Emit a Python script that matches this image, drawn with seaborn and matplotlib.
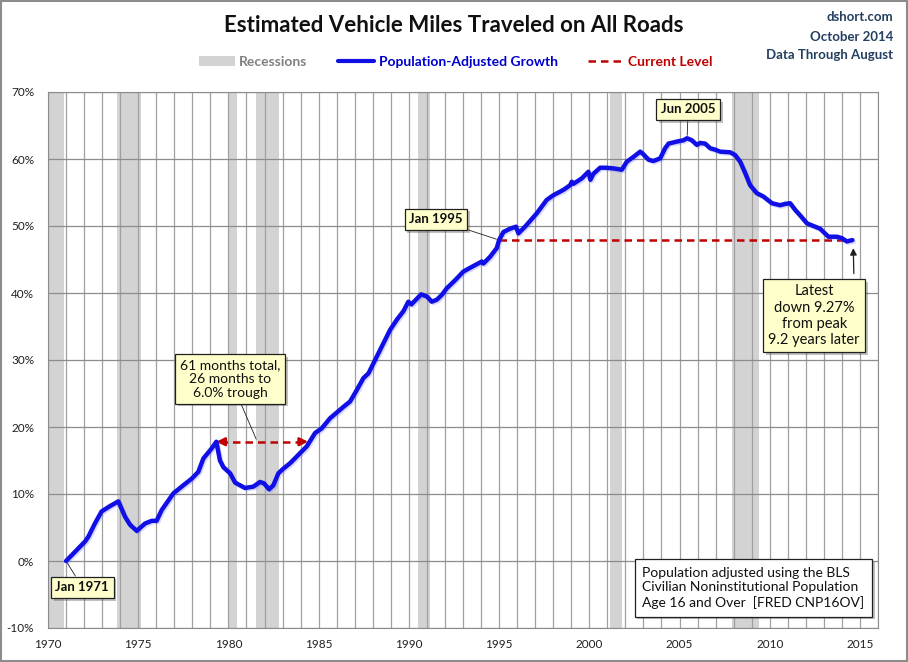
import matplotlib
matplotlib.use("Agg")
import matplotlib.pyplot as plt
import matplotlib.patheffects as pe
from matplotlib.patches import Patch, Rectangle
from matplotlib.lines import Line2D
from matplotlib.ticker import MultipleLocator, FuncFormatter
import seaborn as sns
import pandas as pd

# ---- data ----
dates = [1971.0, 1972.05, 1972.23, 1972.6, 1972.97, 1973.44, 1973.9, 1974.27, 1974.55, 1974.92,
         1975.38, 1975.75, 1976.02, 1976.3, 1976.95, 1977.5, 1977.97, 1978.33, 1978.61, 1979.07,
         1979.33, 1979.53, 1979.72, 1980.09, 1980.37, 1980.92, 1981.38, 1981.75, 1981.97, 1982.25,
         1982.49, 1982.77, 1983.05, 1983.42, 1983.97, 1984.34, 1984.8, 1985.17, 1985.63, 1986.37,
         1986.74, 1987.11, 1987.48, 1987.76, 1988.22, 1988.59, 1988.96, 1989.33, 1989.7, 1989.97,
         1990.14, 1990.68, 1990.99, 1991.27, 1991.55, 1991.82, 1992.1, 1992.56, 1993.02, 1993.49,
         1994.04, 1994.13, 1994.5, 1994.87, 1995.0, 1995.24, 1995.61, 1995.94, 1996.07, 1996.44,
         1997.09, 1997.64, 1998.01, 1998.57, 1998.94, 1999.03, 1999.12, 1999.58, 1999.95, 2000.06,
         2000.23, 2000.6, 2000.92, 2001.34, 2001.8, 2002.08, 2002.44, 2002.82, 2002.96, 2003.28,
         2003.55, 2003.93, 2004.2, 2004.39, 2004.85, 2005.22, 2005.42, 2005.68, 2005.96, 2006.14,
         2006.42, 2006.7, 2006.97, 2007.25, 2007.81, 2008.08, 2008.36, 2008.64, 2008.91, 2009.28,
         2009.65, 2010.12, 2010.58, 2010.85, 2011.13, 2011.41, 2011.68, 2012.06, 2012.33, 2012.79,
         2013.25, 2013.72, 2013.99, 2014.27, 2014.58]
growth = [0.0, 2.9, 3.6, 5.6, 7.4, 8.2, 8.9, 6.6, 5.4, 4.5,
          5.6, 6.0, 6.0, 7.6, 10.1, 11.3, 12.3, 13.3, 15.3, 16.8,
          17.8, 15.0, 14.0, 13.1, 11.7, 10.9, 11.1, 11.8, 11.6, 10.7,
          11.3, 13.1, 13.8, 14.6, 16.1, 17.1, 19.1, 19.8, 21.3, 23.0,
          23.8, 25.5, 27.3, 28.0, 30.5, 32.5, 34.5, 36.0, 37.3, 38.7,
          38.3, 39.8, 39.5, 38.7, 39.0, 39.7, 40.7, 41.9, 43.2, 43.9,
          44.7, 44.4, 45.4, 46.7, 47.9, 49.1, 49.6, 49.9, 48.9, 49.9,
          51.9, 53.9, 54.6, 55.4, 56.1, 56.6, 56.3, 57.1, 58.1, 56.9,
          57.8, 58.7, 58.7, 58.6, 58.4, 59.6, 60.3, 61.1, 60.8, 59.9,
          59.7, 60.1, 61.6, 62.3, 62.6, 62.8, 63.1, 62.8, 62.1, 62.4,
          62.3, 61.6, 61.4, 61.1, 61.0, 60.6, 59.6, 57.9, 56.1, 54.9,
          54.4, 53.4, 53.1, 53.3, 53.4, 52.4, 51.6, 50.4, 50.1, 49.6,
          48.4, 48.4, 48.2, 47.7, 47.9]
recession_start = [1969.83, 1973.83, 1980.0, 1981.5, 1990.5, 2001.17, 2007.92]
recession_end = [1970.9, 1975.17, 1980.5, 1982.83, 1991.17, 2001.83, 2009.42]
level_start = 1995.0
x_ticks = [1970, 1975, 1980, 1985, 1990, 1995, 2000, 2005, 2010, 2015]
y_ticks = [-10, 0, 10, 20, 30, 40, 50, 60, 70]

df = pd.DataFrame({"date": dates, "growth": growth})

sns.set_style("white")
plt.rcParams['font.family'] = ['Lato', 'DejaVu Sans']

fig = plt.figure(figsize=(9.08, 6.62), dpi=100)
ax = fig.add_axes([48/908, 1-628/662, 830/908, 536/662])

BLUE = '#1010E6'
RED = '#C00000'
GRAY = '#D3D3D3'

for s, e in zip(recession_start, recession_end):
    ax.axvspan(max(s, 1970), e, color=GRAY, lw=0, zorder=0.5)

sns.lineplot(data=df, x="date", y="growth", ax=ax, color=BLUE, lw=3.2, zorder=4,
             path_effects=[pe.SimpleLineShadow(offset=(1, -1), alpha=0.25, shadow_color='#6060ff'), pe.Normal()])

# current level
current = growth[-1]
ax.hlines(current, level_start, dates[-1], colors=RED, linestyles=(0, (3, 2)), lw=1.8, zorder=3)

# 61-month span arrow
pk = dates.index(1979.33)
span_end = dates[pk] + 61 / 12
ax.plot([dates[pk] + 0.2, span_end - 0.2], [growth[pk], growth[pk]], color=RED, ls=(0, (3, 2)), lw=1.8, zorder=3)
for a, b in [(dates[pk] + 0.5, dates[pk]), (span_end - 0.5, span_end)]:
    ax.annotate('', xy=(b, growth[pk]), xytext=(a, growth[pk]),
                arrowprops=dict(arrowstyle='-|>', color=RED, lw=1.8, mutation_scale=12, shrinkA=0, shrinkB=0), zorder=3)

ax.set_xlim(1970, 2016)
ax.set_ylim(-10, 70)
ax.set_xticks(x_ticks)
ax.set_yticks(y_ticks)
ax.xaxis.set_minor_locator(MultipleLocator(1))
ax.yaxis.set_major_formatter(FuncFormatter(lambda v, p: f"{v:.0f}%"))
ax.grid(which='major', axis='y', color='#8C8C8C', lw=0.9)
ax.grid(which='both', axis='x', color='#A0A0A0', lw=0.9)
ax.set_axisbelow(True)
ax.tick_params(axis='both', which='both', length=0, labelsize=8.5, colors='#202020')
ax.tick_params(axis='x', pad=8)
ax.tick_params(axis='y', pad=10)
ax.set_xlabel('')
ax.set_ylabel('')
for sp in ax.spines.values():
    sp.set_color('#8C8C8C')

box = dict(boxstyle='square,pad=0.35', fc='#FFFFCC', ec='#202020', lw=0.9)
shadow = [pe.withSimplePatchShadow(offset=(2, -2), alpha=0.35)]

def callout(text, xy, xytext, bold=True, size=9.5):
    t = ax.annotate(text, xy=xy, xytext=xytext, ha='center', va='center',
                    fontsize=size, fontweight='bold' if bold else 'normal', color='#101010',
                    bbox=box, zorder=6, linespacing=1.2,
                    arrowprops=dict(arrowstyle='-', color='#202020', lw=0.6, shrinkA=0, shrinkB=2))
    t.get_bbox_patch().set_path_effects(shadow)
    return t

callout('Jan 1971', (dates[0], growth[0]), (1971.9, -3.9))
callout('Jan 1995', (1995.0, 47.9), (1991.5, 51.0))
callout('Jun 2005', (2005.42, 63.1), (2005.48, 67.4))
callout('61 months total,\n26 months to\n6.0% trough', (1981.6, 17.8), (1980.1, 27.2), bold=False, size=10)

t = ax.text(2012.46, 36.6, 'Latest\ndown 9.27%\nfrom peak\n9.2 years later', ha='center', va='center',
            fontsize=10.5, color='#101010', bbox=box, zorder=6, linespacing=1.2)
t.get_bbox_patch().set_path_effects(shadow)
ax.annotate('', xy=(dates[-1] + 0.05, current - 1.2), xytext=(dates[-1] + 0.08, current - 5.0),
            arrowprops=dict(arrowstyle='-|>', color='#202020', lw=0.9, mutation_scale=10, shrinkA=0, shrinkB=0), zorder=6)

t2 = ax.text(0.716, 0.075, 'Population adjusted using the BLS\nCivilian Noninstitutional Population\nAge 16 and Over  [FRED CNP16OV]',
             transform=ax.transAxes, ha='left', va='center', fontsize=10, color='#101010', linespacing=1.25,
             bbox=dict(boxstyle='square,pad=0.55', fc='white', ec='#202020', lw=0.9), zorder=6)
t2.get_bbox_patch().set_path_effects(shadow)

# title & header texts
fig.text(0.5, 1 - 25/662, 'Estimated Vehicle Miles Traveled on All Roads', ha='center', va='center',
         fontsize=16, fontweight='bold', color='#101010')
hdr = '#243F60'
fig.text(893/908, 1 - 17/662, 'dshort.com', ha='right', va='center', fontsize=9.5, color=hdr, fontweight='bold')
fig.text(893/908, 1 - 37/662, 'October 2014', ha='right', va='center', fontsize=9.5, color=hdr, fontweight='bold')
fig.text(893/908, 1 - 55/662, 'Data Through August', ha='right', va='center', fontsize=9.5, color=hdr, fontweight='bold')

handles = [Patch(color=GRAY, lw=0), Line2D([], [], color=BLUE, lw=3), Line2D([], [], color=RED, lw=1.8, ls=(0, (3, 2)))]
labels = ['Recessions', 'Population-Adjusted Growth', 'Current Level']
leg = ax.legend(handles, labels, loc='center', bbox_to_anchor=(456/908, 1 - 62/662), bbox_transform=fig.transFigure,
                ncol=3, frameon=False, handlelength=2.6, handletextpad=0.3, columnspacing=2.2,
                prop={'size': 10, 'weight': 'bold'}, labelcolor=['#808080', '#0000CC', '#C00000'])

fig.patches.append(Rectangle((0.001, 0.001), 0.998, 0.998, transform=fig.transFigure, fill=False,
                             ec='#8C8C8C', lw=1.5))

fig.savefig('out.png', dpi=100)
